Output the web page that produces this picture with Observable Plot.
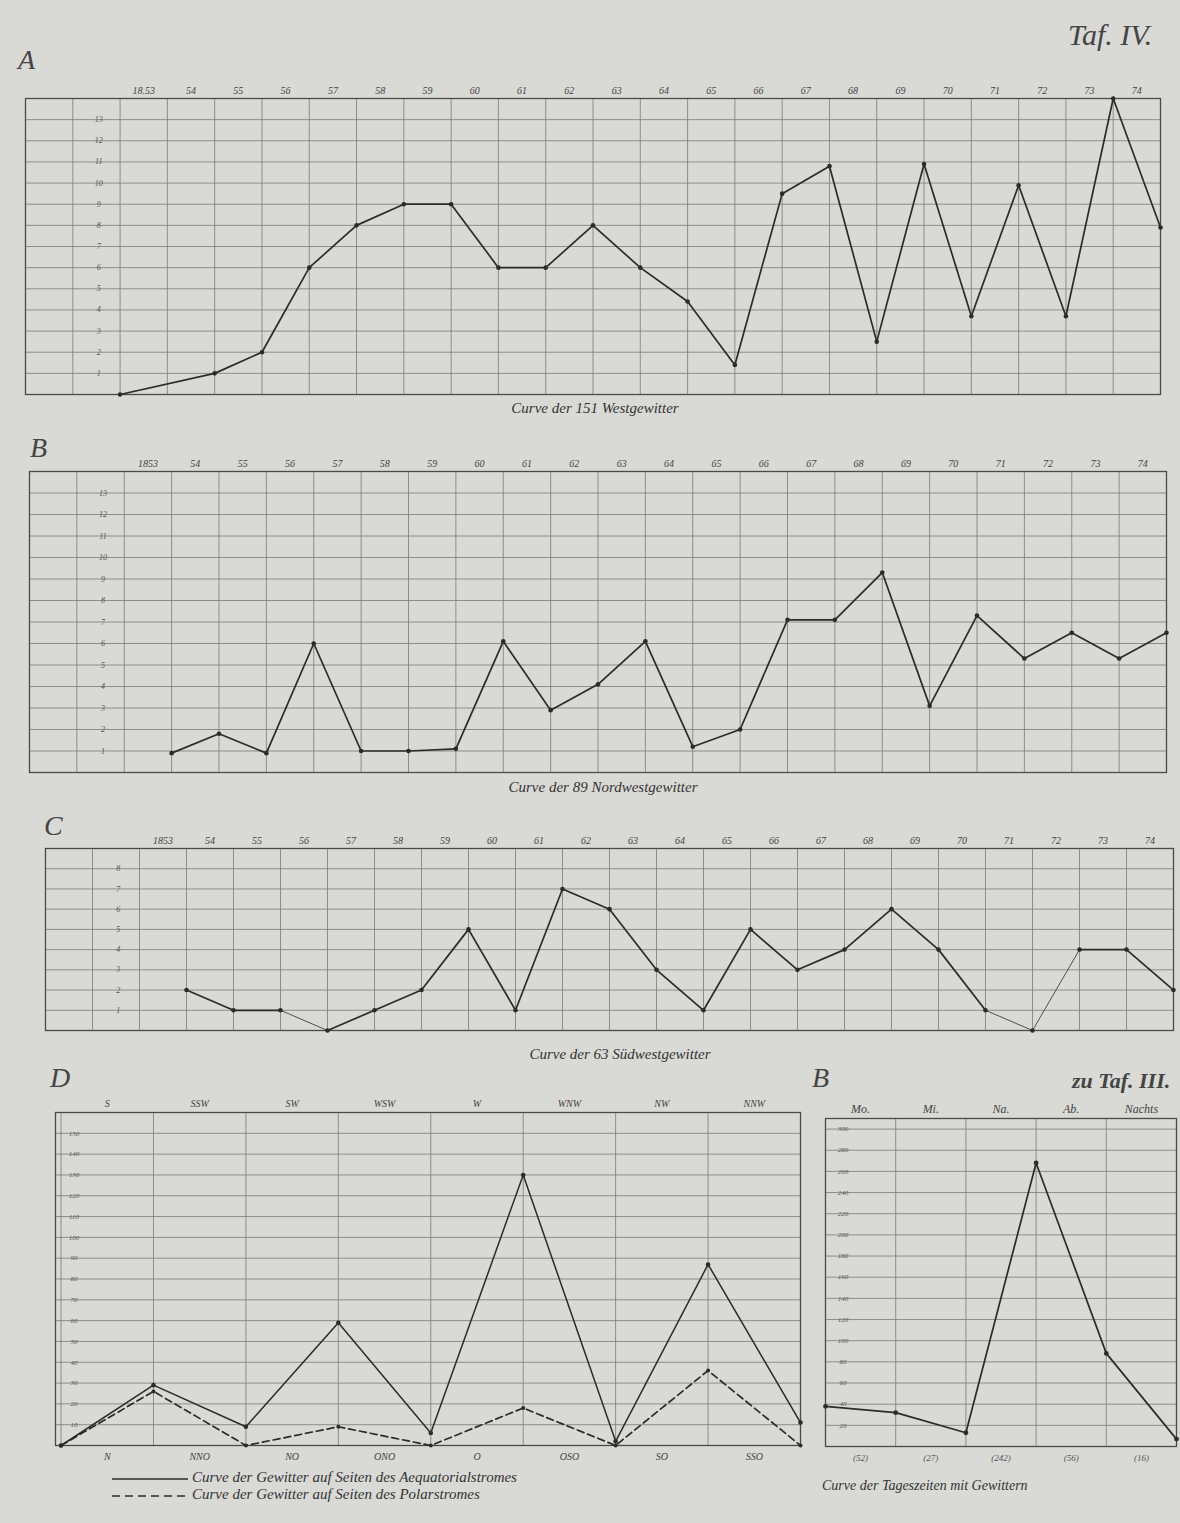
<!DOCTYPE html>
<html><head><meta charset="utf-8">
<script src="https://cdn.jsdelivr.net/npm/d3@7"></script>
<script src="https://cdn.jsdelivr.net/npm/@observablehq/plot@0.6"></script>
<style>
body{margin:0;width:1180px;height:1523px;background:#d9d9d5;position:relative;overflow:hidden;font-family:"Liberation Serif",serif;font-style:italic;color:#333}
.p{position:absolute}
.big{position:absolute;font-size:28px;color:#444}
.cap{position:absolute;font-size:15px;color:#333;white-space:nowrap;transform:translateX(-50%)}
.leg{position:absolute;font-size:15px;color:#333;white-space:nowrap}
.leg svg{vertical-align:middle;margin-right:4px}
</style></head><body>
<script>
// ---------- data ----------
const yearLabelsA = ["18.53","54","55","56","57","58","59","60","61","62","63","64","65","66","67","68","69","70","71","72","73","74"];
const yearLabels = ["1853","54","55","56","57","58","59","60","61","62","63","64","65","66","67","68","69","70","71","72","73","74"];
const yearsA = [1852,1854,1855,1856,1857,1858,1859,1860,1861,1862,1863,1864,1865,1866,1867,1868,1869,1870,1871,1872,1873,1874];
const westA = [0,1,2,6,8,9,9,6,6,8,6,4.4,1.4,9.5,10.8,2.5,10.9,3.7,9.9,3.7,14,7.9];
const yearsBC = [1853,1854,1855,1856,1857,1858,1859,1860,1861,1862,1863,1864,1865,1866,1867,1868,1869,1870,1871,1872,1873,1874];
const nordwestB = [0.9,1.8,0.9,6,1,1,1.1,6.1,2.9,4.1,6.1,1.2,2,7.1,7.1,9.3,3.1,7.3,5.3,6.5,5.3,6.5];
const suedwestC = [2,1,1,0,1,2,5,1,7,6,3,1,5,3,4,6,4,1,0,4,4,2];
const yTicksAB = [1,2,3,4,5,6,7,8,9,10,11,12,13];
const yTicksC = [1,2,3,4,5,6,7,8];

const dirTop = ["S","SSW","SW","WSW","W","WNW","NW","NNW"];
const dirBottom = ["N","NNO","NO","ONO","O","OSO","SO","SSO"];
const aequatorial = [0,29,9,59,6,130,2,87,11];
const polar = [0,26,0,9,0,18,0,36,0];
const yTicksD = [10,20,30,40,50,60,70,80,90,100,110,120,130,140,150];

const tageszeiten = ["Mo.","Mi.","Na.","Ab.","Nachts"];
const tagesCounts = ["(52)","(27)","(242)","(56)","(16)"];
const tagesValues = [38,32,13,268,88,7];
const yTicksT = [20,40,60,80,100,120,140,160,180,200,220,240,260,280,300];

// ---------- helpers ----------
const INK = "#2b2b2b", GRID = "#7a7a78", FRAME = "#4a4a48";
const baseStyle = {background:"transparent", fontFamily:"Liberation Serif, serif", fontStyle:"italic", fontSize:"10px", color:"#333", overflow:"visible"};

function place(el, left, top){
  const d = document.createElement("div");
  d.className = "p"; d.style.left = left+"px"; d.style.top = top+"px";
  d.appendChild(el); document.body.appendChild(d);
}
function text(cls, str, left, top, extra){
  const d = document.createElement("div");
  d.className = cls; d.textContent = str; d.style.left = left+"px"; d.style.top = top+"px";
  if (extra) Object.assign(d.style, extra);
  document.body.appendChild(d);
}
// segments; a segment that drops into a zero value (or leaves it upward after a zero run) is drawn thin
function segments(xs, vs){
  return xs.slice(1).map((x,i)=>({x1:xs[i], y1:vs[i], x2:x, y2:vs[i+1],
    thin: vs[i+1]===0 || (vs[i]===0 && vs[i+1] > 2)}));
}

function yearPanel({years, values, labels, yTicks, yMax, left, top, width, height, mt, mb, ml, mr, thinZero}){
  const pts = years.map((y,i)=>({year:y, v:values[i]}));
  const segs = segments(years, values);
  const thick = thinZero ? segs.filter(s=>!s.thin) : segs;
  const thin = thinZero ? segs.filter(s=>s.thin) : [];
  const svg = Plot.plot({
    width, height, marginTop: mt, marginBottom: mb, marginLeft: ml, marginRight: mr,
    style: baseStyle,
    x: {domain:[1850,1874], axis:null},
    y: {domain:[0,yMax], axis:null},
    marks: [
      Plot.ruleY(d3.range(1, yMax), {stroke:GRID, strokeWidth:0.8}),
      Plot.ruleX(d3.range(1851, 1874), {stroke:GRID, strokeWidth:0.8}),
      Plot.frame({stroke:FRAME, strokeWidth:1.3}),
      Plot.axisX(labels.map((_,i)=>1852.5+i), {anchor:"top", tickSize:0, tickPadding:5, label:null,
        tickFormat: d => labels[Math.round(d-1852.5)], fontSize:10, fill:"#444"}),
      Plot.text(yTicks, {x: ()=>1851.55, y: d=>d, text: d=>String(d), fontSize:8, fill:"#555"}),
      Plot.link(thick, {x1:"x1", y1:"y1", x2:"x2", y2:"y2", stroke:INK, strokeWidth:1.7}),
      Plot.link(thin, {x1:"x1", y1:"y1", x2:"x2", y2:"y2", stroke:INK, strokeWidth:0.8}),
      Plot.dot(pts, {x:"year", y:"v", r:2.3, fill:INK})
    ]
  });
  place(svg, left, top);
}

// ---------- panels A, B, C ----------
yearPanel({years:yearsA, values:westA, labels:yearLabelsA, yTicks:yTicksAB, yMax:14,
  left:0, top:70, width:1180, height:328, mt:28, mb:4, ml:25, mr:20});
yearPanel({years:yearsBC, values:nordwestB, labels:yearLabels, yTicks:yTicksAB, yMax:14,
  left:0, top:445, width:1180, height:331, mt:26, mb:4, ml:29, mr:14});
yearPanel({years:yearsBC, values:suedwestC, labels:yearLabels, yTicks:yTicksC, yMax:9,
  left:0, top:825, width:1180, height:209, mt:23, mb:4, ml:45, mr:7, thinZero:true});

// ---------- panel D ----------
{
  const idx = d3.range(aequatorial.length);
  const aeq = idx.map(i=>({i, v:aequatorial[i]}));
  const pol = idx.map(i=>({i, v:polar[i]}));
  const svg = Plot.plot({
    width:805, height:385, marginTop:27, marginBottom:25, marginLeft:55, marginRight:5,
    style: baseStyle,
    x: {domain:[-0.06, 8], axis:null},
    y: {domain:[0,160], axis:null},
    marks: [
      Plot.ruleY(d3.range(10,160,10), {stroke:GRID, strokeWidth:0.8}),
      Plot.ruleX(d3.range(0,8), {stroke:GRID, strokeWidth:0.8}),
      Plot.frame({stroke:FRAME, strokeWidth:1.3}),
      Plot.axisX(dirTop.map((_,i)=>i+0.5), {anchor:"top", tickSize:0, tickPadding:6, label:null,
        tickFormat: d => dirTop[Math.round(d-0.5)], fontSize:10, fill:"#444"}),
      Plot.axisX(dirBottom.map((_,i)=>i+0.5), {anchor:"bottom", tickSize:0, tickPadding:7, label:null,
        tickFormat: d => dirBottom[Math.round(d-0.5)], fontSize:10, fill:"#444"}),
      Plot.text(yTicksD, {x: ()=>0.14, y: d=>d, text: d=>String(d), fontSize:7, fill:"#555"}),
      Plot.line(pol, {x:"i", y:"v", stroke:INK, strokeWidth:1.7, strokeDasharray:"7,4"}),
      Plot.line(aeq, {x:"i", y:"v", stroke:INK, strokeWidth:1.5}),
      Plot.dot(aeq, {x:"i", y:"v", r:2.3, fill:INK}),
      Plot.dot(pol, {x:"i", y:"v", r:2, fill:INK})
    ]
  });
  place(svg, 0, 1085);
}

// ---------- panel B (zu Taf. III) ----------
{
  const pts = tagesValues.map((v,i)=>({i, v}));
  const svg = Plot.plot({
    width:375, height:383, marginTop:25, marginBottom:30, marginLeft:20, marginRight:4,
    style: baseStyle,
    x: {domain:[0,5], axis:null},
    y: {domain:[0,310], axis:null},
    marks: [
      Plot.ruleY(d3.range(20,310,20), {stroke:GRID, strokeWidth:0.8}),
      Plot.ruleX(d3.range(1,5), {stroke:GRID, strokeWidth:0.8}),
      Plot.frame({stroke:FRAME, strokeWidth:1.3}),
      Plot.axisX(tageszeiten.map((_,i)=>i+0.5), {anchor:"top", tickSize:0, tickPadding:6, label:null,
        tickFormat: d => tageszeiten[Math.round(d-0.5)], fontSize:12, fill:"#444"}),
      Plot.axisX(tagesCounts.map((_,i)=>i+0.5), {anchor:"bottom", tickSize:0, tickPadding:8, label:null,
        tickFormat: d => tagesCounts[Math.round(d-0.5)], fontSize:9, fill:"#555"}),
      Plot.text(yTicksT, {x: ()=>0.25, y: d=>d, text: d=>String(d), fontSize:7, fill:"#555"}),
      Plot.line(pts, {x:"i", y:"v", stroke:INK, strokeWidth:1.7}),
      Plot.dot(pts, {x:"i", y:"v", r:2.4, fill:INK})
    ]
  });
  place(svg, 805, 1093);
}

// ---------- texts ----------
text("big", "A", 18, 44);
text("big", "Taf. IV.", 1068, 18, {fontSize:"30px"});
text("cap", "Curve der 151 Westgewitter", 595, 400);
text("big", "B", 30, 432);
text("cap", "Curve der 89 Nordwestgewitter", 603, 779);
text("big", "C", 44, 810);
text("cap", "Curve der 63 Südwestgewitter", 620, 1046);
text("big", "D", 50, 1062);
text("big", "B", 812, 1062);
text("big", "zu Taf. III.", 1072, 1068, {fontSize:"22px", fontWeight:"bold"});
text("leg", "Curve der Tageszeiten mit Gewittern", 822, 1478, {fontSize:"14px"});
{
  const mk = (dash, label, top) => {
    const l = document.createElement("div");
    l.className = "leg"; l.style.left = "112px"; l.style.top = top+"px";
    l.innerHTML = `<svg width="76" height="6"><line x1="0" y1="3" x2="76" y2="3" stroke="#2b2b2b" stroke-width="1.6" ${dash ? 'stroke-dasharray="8,5"' : ''}/></svg>${label}`;
    document.body.appendChild(l);
  };
  mk(false, "Curve der Gewitter auf Seiten des Aequatorialstromes", 1469);
  mk(true, "Curve der Gewitter auf Seiten des Polarstromes", 1486);
}
</script>
</body></html>
